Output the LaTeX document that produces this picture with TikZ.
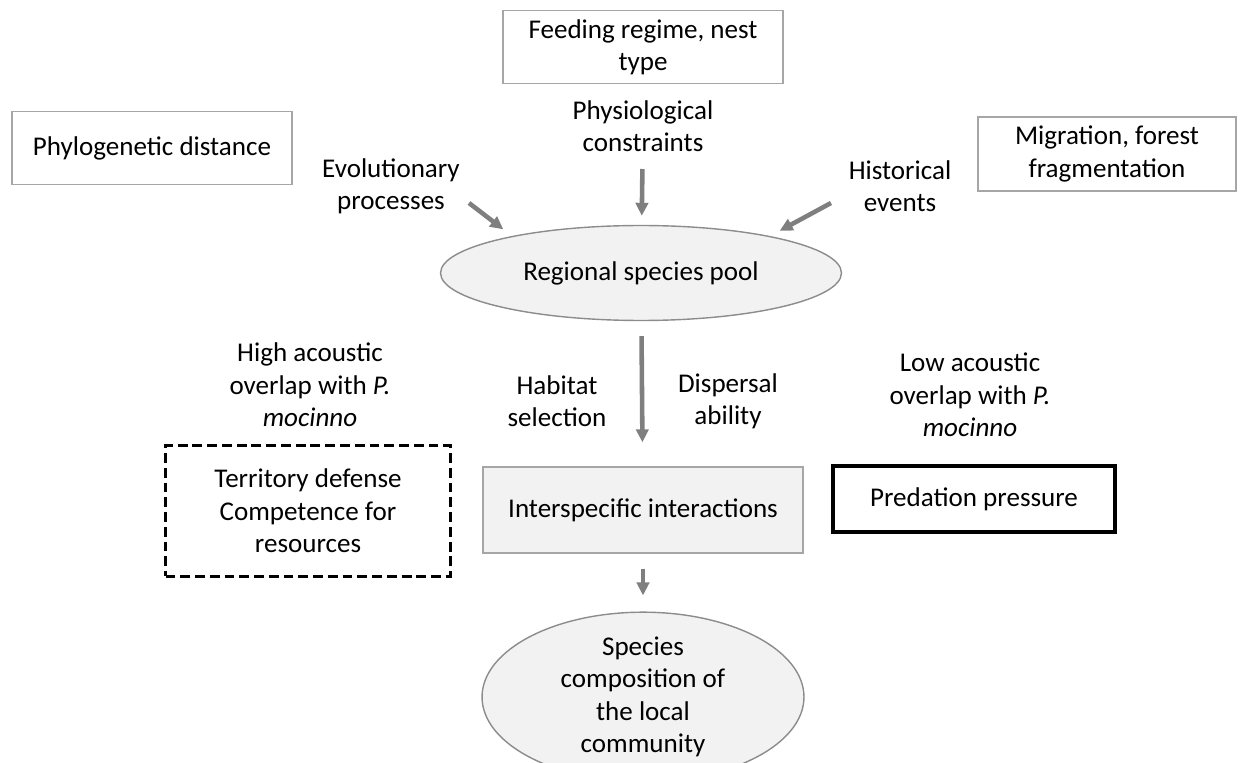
\documentclass[tikz,border=0pt]{standalone}
\usepackage{fontspec}
\setmainfont{Carlito}
\usepackage{tikz}
\usetikzlibrary{arrows.meta, shapes.geometric, positioning}
\definecolor{arrowgray}{HTML}{7F7F7F}
\definecolor{boxgray}{HTML}{A6A6A6}
\definecolor{poolfill}{HTML}{F2F2F2}
\definecolor{poolline}{HTML}{8C8C8C}

\begin{document}
\begin{tikzpicture}[
  x=0.02cm, y=-0.02cm,
  every node/.style={font=\fontsize{15.4pt}{18.4pt}\selectfont, align=center},
  factor/.style={rectangle, draw=boxgray, line width=0.8pt, inner sep=0pt},
  lbl/.style={inner sep=0pt},
  poolell/.style={ellipse, draw=poolline, fill=poolfill,
                  line width=0.8pt, inner sep=0pt},
  interbox/.style={rectangle, draw=boxgray, fill=poolfill,
                   line width=0.8pt, inner sep=0pt},
  highbox/.style={rectangle, draw=black, line width=2pt,
                  dash pattern=on 5.6pt off 2.8pt, inner sep=0pt},
  lowbox/.style={rectangle, draw=black, line width=2.2pt, inner sep=0pt},
  arr/.style={-{Triangle[length=7.4pt, width=7pt]}, line width=2.6pt, arrowgray},
]
\useasboundingbox (0,0) rectangle (1254,763);

%% Top factors
\node[factor, minimum width=5.6cm, minimum height=1.46cm] (feed) at (643,47)
  {Feeding regime, nest\\type};
\node[lbl] (phys) at (643,126) {Physiological\\constraints};
\node[factor, minimum width=5.6cm, minimum height=1.46cm] (phylo) at (152,148)
  {Phylogenetic distance};
\node[lbl] (evol) at (391,186) {Evolutionary\\processes};
\node[factor, minimum width=5.16cm, minimum height=1.48cm] (migr) at (1107,154)
  {Migration, forest\\fragmentation};
\node[lbl] (hist) at (900,186) {Historical\\events};

%% Regional pool
\node[poolell, minimum width=8.02cm, minimum height=1.9cm] (regpool) at (641,273)
  {Regional species pool};

\coordinate (evoltail) at (469,203);
\coordinate (histtail) at (831,203);
\draw[arr, shorten <=0.34cm, shorten >=0.18cm] (phys) -- (regpool);
\draw[arr, shorten >=0.22cm] (evoltail) -- (regpool.164);
\draw[arr, shorten >=0.22cm] (histtail) -- (regpool.16);

%% Filters
\node[lbl] (high) at (310,385) {High acoustic\\overlap with \textit{P.}\\\textit{mocinno}};
\node[lbl] (habit) at (557,401) {Habitat\\selection};
\node[lbl] (disp) at (728,401) {Dispersal\\ability};
\node[lbl] (low) at (970,395) {Low acoustic\\overlap with \textit{P.}\\\textit{mocinno}};

\node[highbox, minimum width=5.7cm, minimum height=2.62cm] (terr) at (308,511)
  {Territory defense\\Competence for\\resources};
\node[interbox, minimum width=6.4cm, minimum height=1.72cm] (inter) at (643,510)
  {Interspecific interactions};
\node[lowbox, minimum width=5.64cm, minimum height=1.32cm] (pred) at (974,499)
  {Predation pressure};

%% Local community
\node[poolell, minimum width=6.44cm, minimum height=2.8cm] (local) at (643,697)
  {Species\\composition of\\the local\\community};

\draw[arr, shorten <=0.3cm, shorten >=0.48cm] (regpool) -- (inter);
\draw[arr, shorten <=0.3cm, shorten >=0.32cm] (inter) -- (local);

\end{tikzpicture}
\end{document}
